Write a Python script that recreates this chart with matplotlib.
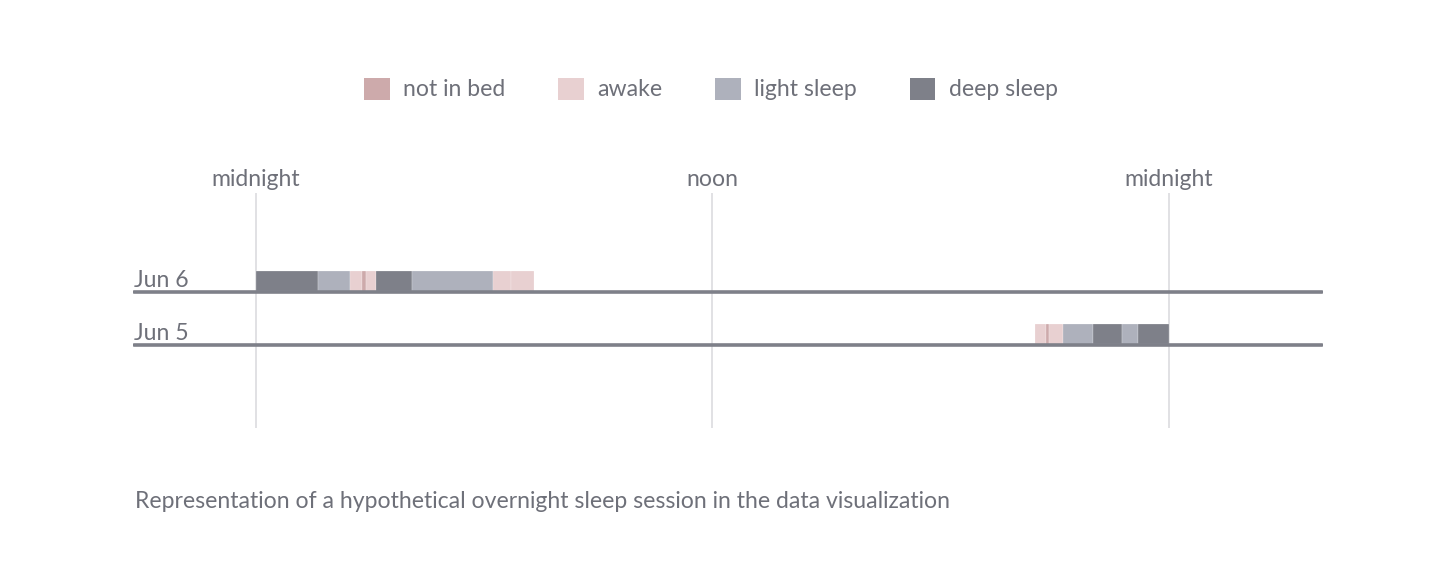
import matplotlib
matplotlib.use("Agg")
import matplotlib.pyplot as plt
from matplotlib.patches import Patch

# sleep states and colours
states = ["not in bed", "awake", "light sleep", "deep sleep"]
state_colors = {
    "not in bed": "#cdaaab",
    "awake": "#e8d0d1",
    "light sleep": "#aeb1bc",
    "deep sleep": "#7e8089",
}

# rows (top to bottom) and their segments, in hours of the day
days = ["Jun 6", "Jun 5"]

jun6_start = [0.00, 1.63, 2.48, 2.78, 2.88, 3.16, 4.11, 6.22, 6.71]
jun6_end = [1.63, 2.48, 2.78, 2.88, 3.16, 4.11, 6.22, 6.71, 7.32]
jun6_state = ["deep sleep", "light sleep", "awake", "not in bed", "awake",
              "deep sleep", "light sleep", "awake", "awake"]

jun5_start = [20.47, 20.76, 20.86, 21.21, 22.01, 22.77, 23.18]
jun5_end = [20.76, 20.86, 21.21, 22.01, 22.77, 23.18, 24.00]
jun5_state = ["awake", "not in bed", "awake", "light sleep", "deep sleep",
              "light sleep", "deep sleep"]

tick_hours = [0, 12, 24]
tick_labels = ["midnight", "noon", "midnight"]

caption = ("Representation of a hypothetical overnight sleep session "
           "in the data visualization")

TEXT = "#6e7079"
FONT = ["Lato", "DejaVu Sans"]
FS = 16.6


def main():
    plt.rcParams["font.family"] = FONT
    W, H = 1456, 588
    fig = plt.figure(figsize=(W / 100, H / 100), dpi=100)
    fig.patch.set_facecolor("white")

    # axes spans figure pixels x 133..1323, y 150..440 (y in pixels, downwards)
    ax = fig.add_axes([133 / W, 1 - 440 / H, (1323 - 133) / W, 290 / H])
    ax.set_xlim(-3.233, 28.05)
    ax.set_ylim(440, 150)
    ax.axis("off")

    row_y = {"Jun 6": 292.3, "Jun 5": 345.3}
    rows = {
        "Jun 6": (jun6_start, jun6_end, jun6_state),
        "Jun 5": (jun5_start, jun5_end, jun5_state),
    }

    # vertical gridlines with labels on top
    ax.vlines(tick_hours, 193, 428, color="#d9d9dc", lw=1.1, zorder=1)
    for h, lab in zip(tick_hours, tick_labels):
        ax.text(h, 179, lab, ha="center", va="center", fontsize=FS,
                color=TEXT)

    for day in days:
        y = row_y[day]
        starts, ends, sts = rows[day]
        widths = [e - s for s, e in zip(starts, ends)]
        cols = [state_colors[s] for s in sts]
        ax.barh(y - 11.2, widths, left=starts, height=20.5, color=cols,
                edgecolor="white", linewidth=0.15, zorder=2)
        xmin, xmax = ax.get_xlim()
        ax.plot([xmin + 0.03, xmax - 0.03], [y, y], color="#7e8089", lw=2.6,
                solid_capstyle="round", zorder=3)
        ax.text(xmin + 0.03, y - 5, day, ha="left", va="baseline",
                fontsize=FS, color=TEXT)

    handles = [Patch(facecolor=state_colors[s], edgecolor="none")
               for s in states]
    leg = fig.legend(handles, states, loc="center", ncol=4,
                     bbox_to_anchor=(711 / W, 1 - 89 / H), frameon=False,
                     fontsize=FS, handlelength=1.1, handleheight=1.1,
                     handletextpad=0.58, columnspacing=2.3)
    for t in leg.get_texts():
        t.set_color(TEXT)

    fig.text(135 / W, 1 - 501 / H, caption, ha="left", va="center",
             fontsize=FS, color=TEXT)

    fig.savefig("out.png", dpi=100, facecolor="white")


if __name__ == "__main__":
    main()
